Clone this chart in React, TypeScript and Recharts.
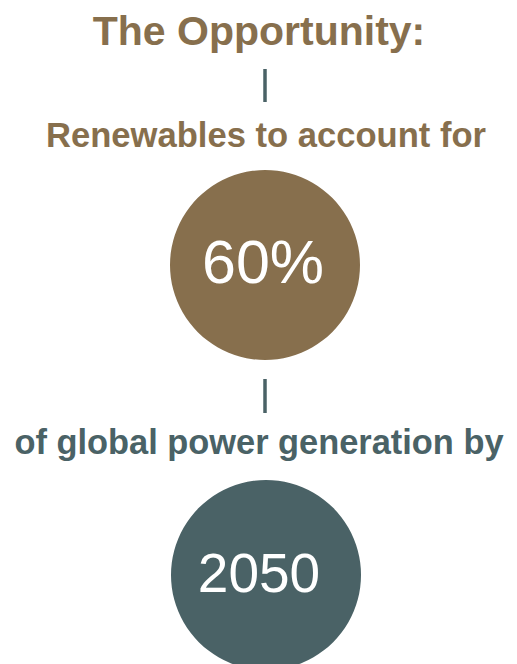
import React from 'react';
import { PieChart, Pie, Cell, Customized } from 'recharts';

const headline = 'The Opportunity:';
const captions = ['Renewables to account for', 'of global power generation by'];
const figures = ['60%', '2050'];
const figureValues = [1, 1];

const BROWN = '#876F4D';
const SLATE = '#4A6266';
const FONT = '"Liberation Sans", Arial, Helvetica, sans-serif';

const W = 517;
const H = 664;
const CX = 265;

const Decorations = () => (
  <g>
    <text x={CX - 6} y={45} textAnchor="middle" fill={BROWN} fontSize={41} fontWeight="bold" fontFamily={FONT}>
      {headline}
    </text>
    <line x1={CX} y1={69} x2={CX} y2={102} stroke={SLATE} strokeWidth={3.5} />
    <text x={CX + 1} y={147} textAnchor="middle" fill={BROWN} fontSize={34.6} fontWeight="bold" fontFamily={FONT}>
      {captions[0]}
    </text>
    <line x1={CX} y1={379} x2={CX} y2={413} stroke={SLATE} strokeWidth={3.5} />
    <text x={CX - 6} y={454} textAnchor="middle" fill={SLATE} fontSize={34.4} fontWeight="bold" fontFamily={FONT}>
      {captions[1]}
    </text>
  </g>
);

// figure text sits a little left of the circle centre in the original
const centerLabel = (size: number, dx: number) => (props: any) => (
  <text
    x={props.cx + dx}
    y={props.cy + size * 0.3}
    textAnchor="middle"
    fill="#fff"
    fontSize={size}
    fontFamily={FONT}
  >
    {props.name}
  </text>
);

const App: React.FC = () => {
  const circles = figures.map((f, i) => ({ name: f, value: figureValues[i] }));
  return (
    <div style={{ position: 'absolute', left: 0, top: 0, width: W, height: H, background: '#fff', overflow: 'hidden' }}>
      <PieChart width={W} height={H} margin={{ top: 0, right: 0, bottom: 0, left: 0 }}>
        <Pie
          data={[circles[0]]}
          dataKey="value"
          nameKey="name"
          cx={CX}
          cy={265}
          outerRadius={95}
          startAngle={90}
          endAngle={-270}
          stroke="none"
          labelLine={false}
          label={centerLabel(61, -2)}
          isAnimationActive={false}
        >
          <Cell fill={BROWN} />
        </Pie>
        <Pie
          data={[circles[1]]}
          dataKey="value"
          nameKey="name"
          cx={CX + 1}
          cy={575}
          outerRadius={95}
          startAngle={90}
          endAngle={-270}
          stroke="none"
          labelLine={false}
          label={centerLabel(55, -7)}
          isAnimationActive={false}
        >
          <Cell fill={SLATE} />
        </Pie>
        <Customized component={Decorations} />
      </PieChart>
    </div>
  );
};

export default App;
